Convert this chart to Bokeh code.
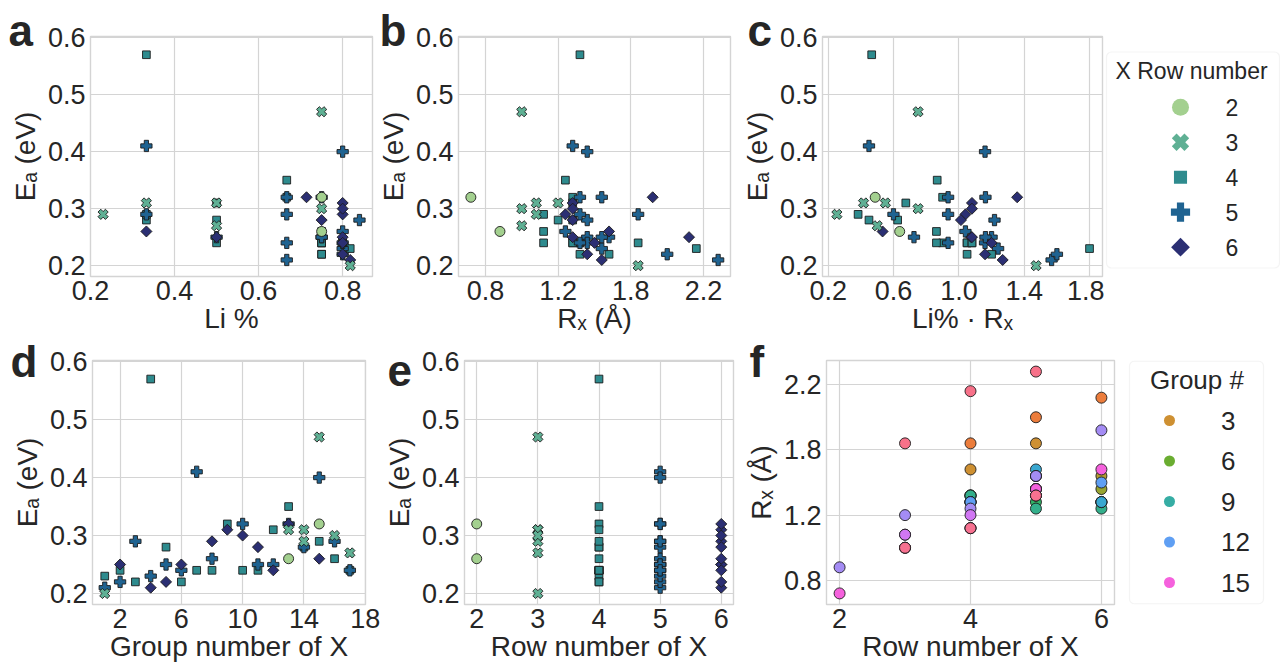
import math
from bokeh.plotting import figure
from bokeh.layouts import row, column
from bokeh.models import Range1d, FixedTicker, Label, BoxAnnotation, ColumnDataSource, Title
from bokeh.embed import file_html
from bokeh.resources import INLINE

# ---------------- data (one entry per compound) ----------------
x_element = ["K", "Ca", "Sc", "Ti", "V", "Cr", "Mn", "Fe", "Co", "Ni", "Cu", "Zn", "Ga", "Ge", "As", "Se", "Br",
             "Rb", "Sr", "Y", "Zr", "Nb", "Mo", "Tc", "Ru", "Pd", "Ag", "Cd", "In", "Sn", "Sb", "Te", "I",
             "Ba", "Hf", "Ta", "W", "Os", "Ir", "Pt", "Au", "Hg", "Tl", "Bi",
             "Na", "Al", "Si", "Si", "P", "S", "Cl",
             "B", "N"]
x_row = [4, 4, 4, 4, 4, 4, 4, 4, 4, 4, 4, 4, 4, 4, 4, 4, 4,
         5, 5, 5, 5, 5, 5, 5, 5, 5, 5, 5, 5, 5, 5, 5, 5,
         6, 6, 6, 6, 6, 6, 6, 6, 6, 6, 6,
         3, 3, 3, 3, 3, 3, 3,
         2, 2]
x_group = [1, 2, 3, 4, 5, 6, 7, 8, 9, 10, 11, 12, 13, 14, 15, 16, 17,
           1, 2, 3, 4, 5, 6, 7, 8, 10, 11, 12, 13, 14, 15, 16, 17,
           2, 4, 5, 6, 8, 9, 10, 11, 12, 13, 15,
           1, 13, 14, 14, 15, 16, 17,
           13, 15]
r_x = [2.20, 1.80, 1.60, 1.40, 1.35, 1.40, 1.40, 1.40, 1.35, 1.35, 1.35, 1.35, 1.30, 1.25, 1.15, 1.15, 1.15,
       2.35, 2.00, 1.80, 1.55, 1.45, 1.45, 1.35, 1.30, 1.40, 1.60, 1.55, 1.55, 1.45, 1.45, 1.40, 1.40,
       2.15, 1.55, 1.45, 1.35, 1.30, 1.35, 1.35, 1.35, 1.50, 1.90, 1.60,
       1.80, 1.25, 1.10, 1.10, 1.00, 1.00, 1.00,
       0.85, 0.65]
li_frac = [0.818, 0.50, 0.75, 0.333, 0.333, 0.75, 0.75, 0.75, 0.667, 0.80, 0.80, 0.50, 0.667, 0.50, 0.333, 0.75, 0.75,
           0.667, 0.80, 0.333, 0.80, 0.50, 0.80, 0.333, 0.80, 0.667, 0.75, 0.75, 0.75, 0.84, 0.80, 0.667, 0.667,
           0.50, 0.818, 0.80, 0.80, 0.80, 0.80, 0.80, 0.75, 0.80, 0.714, 0.333,
           0.818, 0.333, 0.50, 0.23, 0.75, 0.75, 0.50,
           0.75, 0.75]
e_a = [0.23, 0.24, 0.22, 0.57, 0.28, 0.22, 0.24, 0.24, 0.32, 0.24, 0.24, 0.31, 0.35, 0.28, 0.29, 0.26, 0.24,
       0.21, 0.22, 0.29, 0.23, 0.25, 0.24, 0.41, 0.26, 0.32, 0.25, 0.25, 0.32, 0.28, 0.40, 0.29, 0.24,
       0.25, 0.21, 0.22, 0.25, 0.29, 0.31, 0.30, 0.28, 0.24, 0.32, 0.26,
       0.20, 0.31, 0.31, 0.29, 0.47, 0.30, 0.27,
       0.26, 0.32]
li_times_rx = [l * r for l, r in zip(li_frac, r_x)]

legend_rows = [2, 3, 4, 5, 6]
legend_groups = [3, 6, 9, 12, 15]

ea_ticks = [0.2, 0.3, 0.4, 0.5, 0.6]
ea_tick_labels = ["0.2", "0.3", "0.4", "0.5", "0.6"]
li_ticks = [0.2, 0.4, 0.6, 0.8]
li_tick_labels = ["0.2", "0.4", "0.6", "0.8"]
rx_ticks = [0.75, 1.25, 1.75, 2.25]
rx_tick_labels = ["0.8", "1.2", "1.8", "2.2"]
lirx_ticks = [0.2, 0.6, 1.0, 1.4, 1.8]
lirx_tick_labels = ["0.2", "0.6", "1.0", "1.4", "1.8"]
group_ticks = [2, 6, 10, 14, 18]
group_tick_labels = ["2", "6", "10", "14", "18"]
row_ticks_e = [2, 3, 4, 5, 6]
row_tick_labels_e = ["2", "3", "4", "5", "6"]
row_ticks_f = [2, 4, 6]
row_tick_labels_f = ["2", "4", "6"]

EA_LABEL = "E\u2090 (eV)"
RX_LABEL = "R\u2093 (\u00c5)"
LIRX_LABEL = "Li% \u00b7 R\u2093"

# ---------------- styles ----------------
FONT = "Liberation Sans"
TXT = "#262626"
GRID = "#d4d4d4"
EDGE = "#1c1c1c"
ROW_COLOR = {2: "#a3d08f", 3: "#5fb094", 4: "#2e8b8e", 5: "#1f6391", 6: "#2b2f73"}
ROW_MARKER = {2: ("circle", 10.0, 0.0), 3: ("plus", 10.5, math.pi / 4), 4: ("square", 7.7, 0.0),
              5: ("plus", 11.3, 0.0), 6: ("square", 7.8, math.pi / 4)}
LEG_SCALE = 1.7
GROUP_COLOR = {1: "#f77189", 2: "#ec7d3c", 3: "#ce9032", 4: "#b39a31", 5: "#97a431", 6: "#6aad31",
               7: "#32b166", 8: "#33af8b", 9: "#36ada4", 10: "#38aabe", 11: "#39a7d0", 12: "#5f9ff3",
               13: "#a48cf4", 14: "#d177f4", 15: "#f561dd", 16: "#f668b0", 17: "#f77190"}

# page geometry (page origin at top-left): canvas (left, top, width, height), frame (left, top, right, bottom)
CANVAS = {"a": (0, 0, 374, 336), "b": (374, 0, 364, 336), "c": (738, 0, 366, 336), "lc": (1104, 0, 176, 336),
          "d": (0, 336, 380, 328), "e": (380, 336, 360, 328), "f": (740, 336, 382, 328), "lf": (1122, 336, 158, 328)}
ROW1_FT, ROW1_FB = 36, 276
ROW2_FT, ROW2_FB = 360, 604
FRAME = {"a": (90, ROW1_FT, 372, ROW1_FB), "b": (455, ROW1_FT, 730, ROW1_FB), "c": (820, ROW1_FT, 1102, ROW1_FB),
         "d": (92, ROW2_FT, 365, ROW2_FB), "e": (461, ROW2_FT, 733, ROW2_FB), "f": (826, ROW2_FT, 1114, ROW2_FB)}


def make_panel(key, xr, yr, xt, xl, yt, yl, xlabel, ylabel):
    cl, ct, cw, ch = CANVAS[key]
    fl, ft, fr, fb = FRAME[key]
    p = figure(width=cw, height=ch, x_range=Range1d(*xr), y_range=Range1d(*yr),
               min_border_left=fl - cl, min_border_right=cl + cw - fr,
               min_border_top=ft - ct, min_border_bottom=ct + ch - fb,
               output_backend="svg", toolbar_location=None, title=None)
    p.background_fill_color = "white"
    p.border_fill_color = "white"
    p.outline_line_color = GRID
    p.outline_line_width = 1.4
    for ax, ticks, labels, lab, lso, so in ((p.xaxis[0], xt, xl, xlabel, 4, 0),
                                            (p.yaxis[0], yt, yl, ylabel, 5, 4)):
        ax.ticker = FixedTicker(ticks=ticks)
        ax.major_label_overrides = {t: s for t, s in zip(ticks, labels)}
        ax.axis_line_color = None
        ax.major_tick_line_color = None
        ax.minor_tick_line_color = None
        ax.major_tick_out = 0
        ax.major_tick_in = 0
        ax.minor_tick_out = 0
        ax.minor_tick_in = 0
        ax.major_label_text_font = FONT
        ax.major_label_text_font_size = "27px"
        ax.major_label_text_color = TXT
        ax.major_label_standoff = lso
        ax.axis_label = lab
        ax.axis_label_text_font = FONT
        ax.axis_label_text_font_size = "28px"
        ax.axis_label_text_font_style = "normal"
        ax.axis_label_text_color = TXT
        ax.axis_label_standoff = so
    p.xgrid.grid_line_color = GRID
    p.ygrid.grid_line_color = GRID
    p.xgrid.grid_line_width = 1.2
    p.ygrid.grid_line_width = 1.2
    return p


def letter(p, key, text, px, baseline_py):
    fl, ft, fr, fb = FRAME[key]
    box_bottom = baseline_py + 9.3
    p.add_layout(Title(text=text, align="left", offset=px - fl, standoff=-2 * (box_bottom - ft),
                       vertical_align="bottom", text_font=FONT, text_font_size="44px",
                       text_font_style="bold", text_color=TXT), "above")


def make_blank(key, ft, fb):
    cl, ct, cw, ch = CANVAS[key]
    p = figure(width=cw, height=ch, x_range=Range1d(cl, cl + cw), y_range=Range1d(-fb, -ft),
               min_border_left=0, min_border_right=0, min_border_top=ft - ct, min_border_bottom=ct + ch - fb,
               output_backend="svg", toolbar_location=None, title=None,
               x_axis_location=None, y_axis_location=None)
    p.outline_line_color = None
    p.background_fill_color = "white"
    p.border_fill_color = "white"
    p.grid.visible = False
    return p


def row_source(xs, ys):
    return ColumnDataSource(dict(
        x=xs, y=ys,
        marker=[ROW_MARKER[r][0] for r in x_row],
        size=[ROW_MARKER[r][1] for r in x_row],
        angle=[ROW_MARKER[r][2] for r in x_row],
        color=[ROW_COLOR[r] for r in x_row]))


def draw_rows(p, xs):
    p.scatter(x="x", y="y", marker="marker", size="size", angle="angle", fill_color="color",
              line_color=EDGE, line_width=0.9, source=row_source(xs, e_a))


EA_RANGE = (0.181, 0.602)
pa = make_panel("a", (0.2, 0.871), EA_RANGE, li_ticks, li_tick_labels, ea_ticks, ea_tick_labels,
                "Li %", EA_LABEL)
pb = make_panel("b", (0.565, 2.435), EA_RANGE, rx_ticks, rx_tick_labels, ea_ticks, ea_tick_labels,
                RX_LABEL, EA_LABEL)
pc = make_panel("c", (0.165, 1.879), EA_RANGE, lirx_ticks, lirx_tick_labels, ea_ticks, ea_tick_labels,
                LIRX_LABEL, EA_LABEL)
pd = make_panel("d", (0.2, 18.02), EA_RANGE, group_ticks, group_tick_labels, ea_ticks, ea_tick_labels,
                "Group number of X", EA_LABEL)
pe = make_panel("e", (1.8, 6.2), EA_RANGE, row_ticks_e, row_tick_labels_e, ea_ticks, ea_tick_labels,
                "Row number of X", EA_LABEL)
pf = make_panel("f", (1.8, 6.2), (0.565, 2.435), row_ticks_f, row_tick_labels_f, rx_ticks, rx_tick_labels,
                "Row number of X", RX_LABEL)

draw_rows(pa, li_frac)
draw_rows(pb, r_x)
draw_rows(pc, li_times_rx)
draw_rows(pd, x_group)
draw_rows(pe, x_row)
pf.scatter(x="x", y="y", size=11, fill_color="color", line_color=EDGE, line_width=0.9,
           source=ColumnDataSource(dict(x=x_row, y=r_x, color=[GROUP_COLOR[g] for g in x_group])))

# ---------------- panel letters ----------------
letter(pa, "a", "a", 8, 45)
letter(pb, "b", "b", 376, 45)
letter(pc, "c", "c", 745, 45)
letter(pd, "d", "d", 10, 376)
letter(pe, "e", "e", 384, 376)
letter(pf, "f", "f", 749, 376)

# ---------------- legend: X row number ----------------
plc = make_blank("lc", ROW1_FT, ROW1_FB)
plc.add_layout(BoxAnnotation(left=1106, right=1279, top=-51.5, bottom=-267.5, fill_color=None,
                             line_color="#dcdcdc", line_width=1.2, border_radius=5))
plc.add_layout(Label(x=1115, y=-70, text="X Row number", text_font=FONT, text_font_size="23px",
                     text_baseline="middle", text_color=TXT))
leg_y = [106.7 + 35 * i for i in range(len(legend_rows))]
plc.scatter(x=[1180] * len(legend_rows), y=[-yy for yy in leg_y],
            marker=[ROW_MARKER[r][0] for r in legend_rows],
            size=[ROW_MARKER[r][1] * LEG_SCALE for r in legend_rows],
            angle=[ROW_MARKER[r][2] for r in legend_rows],
            fill_color=[ROW_COLOR[r] for r in legend_rows], line_color=None)
for r, yy in zip(legend_rows, leg_y):
    plc.add_layout(Label(x=1225, y=-yy, text=str(r), text_font=FONT, text_font_size="23px",
                         text_baseline="middle", text_color=TXT))

# ---------------- legend: group # ----------------
plf = make_blank("lf", ROW2_FT, ROW2_FB)
plf.add_layout(BoxAnnotation(left=1129, right=1263, top=-360.6, bottom=-603.4, fill_color=None,
                             line_color="#dcdcdc", line_width=1.2, border_radius=5))
plf.add_layout(Label(x=1196.5, y=-379, text="Group #", text_font=FONT, text_font_size="26px",
                     text_align="center", text_baseline="middle", text_color=TXT))
gy = [420 + 40.5 * i for i in range(len(legend_groups))]
plf.scatter(x=[1169] * len(legend_groups), y=[-yy for yy in gy], size=11,
            fill_color=[GROUP_COLOR[g] for g in legend_groups], line_color=None)
for g, yy in zip(legend_groups, gy):
    plf.add_layout(Label(x=1220.5, y=-yy, text=str(g), text_font=FONT, text_font_size="26px",
                         text_baseline="middle", text_color=TXT))

layout = column(row(pa, pb, pc, plc), row(pd, pe, pf, plf))
open("out.html", "w").write(file_html(layout, INLINE, title="chart"))
